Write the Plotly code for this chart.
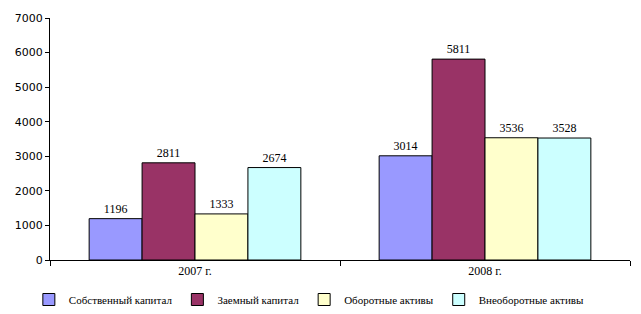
import plotly.graph_objects as go

categories = ["2007 г.", "2008 г."]
series_names = ["Собственный капитал", "Заемный капитал", "Оборотные активы", "Внеоборотные активы"]
values = {
    "Собственный капитал": [1196, 3014],
    "Заемный капитал": [2811, 5811],
    "Оборотные активы": [1333, 3536],
    "Внеоборотные активы": [2674, 3528],
}
colors = ["#9999FF", "#993366", "#FFFFCC", "#CCFFFF"]
y_ticks = [0, 1000, 2000, 3000, 4000, 5000, 6000, 7000]

fig = go.Figure()
for name, col in zip(series_names, colors):
    fig.add_trace(go.Bar(
        name=name, x=categories, y=values[name],
        marker=dict(color=col, line=dict(color="black", width=1)),
        text=[str(v) for v in values[name]], textposition="outside",
        textfont=dict(family="Liberation Serif", size=12, color="black"),
        cliponaxis=False,
    ))

fig.update_layout(
    width=641, height=314,
    margin=dict(l=50, r=11, t=18, b=54, autoexpand=False),
    paper_bgcolor="white", plot_bgcolor="white",
    barmode="group", bargap=0.27, bargroupgap=0,
    showlegend=True,
    legend=dict(orientation="h", xref="container", yref="container",
                x=0.045, xanchor="left", y=0.0, yanchor="bottom",
                font=dict(family="Liberation Serif", size=11, color="black"),
                itemwidth=30, tracegroupgap=0, bgcolor="rgba(0,0,0,0)"),
    xaxis=dict(showline=True, linecolor="black", linewidth=1, ticks="outside",
               tickson="boundaries", ticklen=5, tickcolor="black",
               tickfont=dict(family="Liberation Serif", size=12, color="black"),
               showgrid=False),
    yaxis=dict(range=[0, 7000], tickvals=y_ticks, showline=True, linecolor="black",
               linewidth=1, ticks="outside", ticklen=4, tickcolor="black",
               tickfont=dict(family="DejaVu Sans", size=11, color="black"),
               showgrid=False, zeroline=False),
    font=dict(family="Liberation Serif", size=12, color="black"),
)

fig.write_html("out.html")
